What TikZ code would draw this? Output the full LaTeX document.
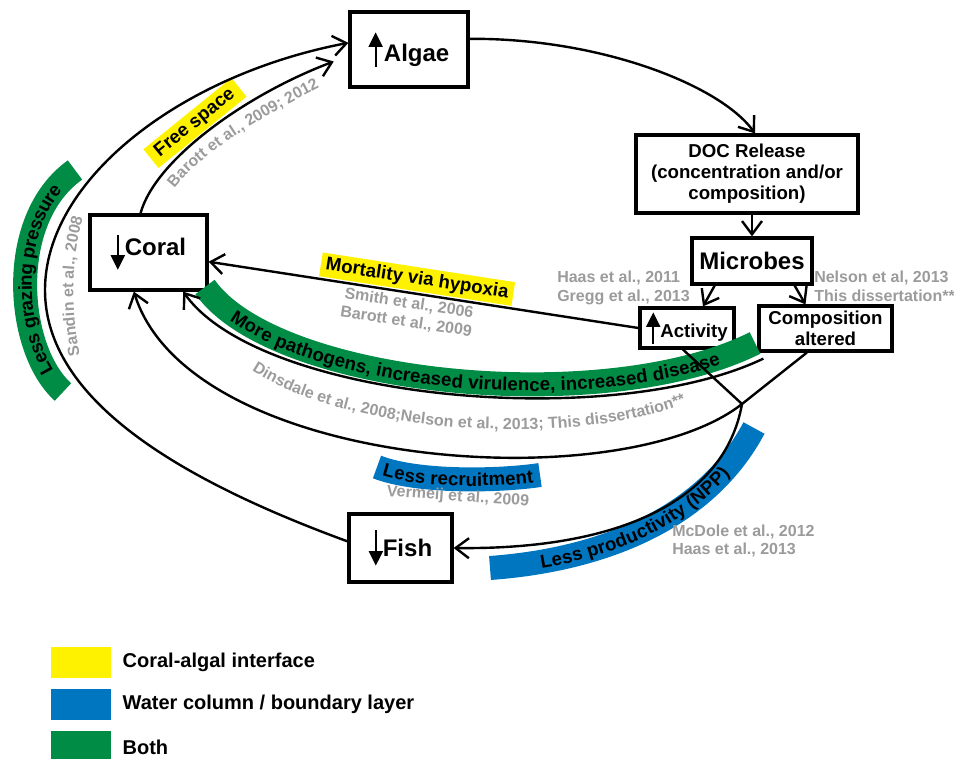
\documentclass[tikz,border=0pt]{standalone}
\usepackage{fontspec}
\setmainfont{Liberation Sans}
\usetikzlibrary{arrows.meta,positioning,decorations.text}

\definecolor{bandyellow}{HTML}{FFF200}
\definecolor{bandblue}{HTML}{0076C0}
\definecolor{bandgreen}{HTML}{008C45}
\definecolor{refgray}{HTML}{9B9B9B}

\newcommand{\boxfont}{\fontsize{18}{20}\selectfont\bfseries}
\newcommand{\midfont}{\fontsize{14}{15.75}\selectfont\bfseries}
\newcommand{\citefont}{\fontsize{12}{14}\selectfont\bfseries}
\newcommand{\legfont}{\fontsize{15}{17}\selectfont\bfseries}
% little up/down arrows in the boxes
\newcommand{\arrup}[2]{\tikz[baseline=0pt]\draw[line width=1.7pt,-{Triangle[length=11pt,width=10.5pt]}] (0pt,-#1) -- (0pt,#2);}
\newcommand{\arrdn}[2]{\tikz[baseline=0pt]\draw[line width=1.7pt,-{Triangle[length=11pt,width=10.5pt]}] (0pt,#1) -- (0pt,-#2);}

\begin{document}
\begin{tikzpicture}[x=0.75pt,y=-0.75pt,
    box/.style={draw,line width=2.4pt,fill=white,inner sep=1pt,font=\boxfont},
    midbox/.style={box,font=\midfont,align=center},
    conn/.style={line width=1.8pt},
    arr/.style={conn,-{Straight Barb[length=10pt,width=15pt]}},
    band/.style={line width=18pt},
    bandtext/.style={decorate,decoration={text along path,text align=center,raise=-5pt,text color=black,text={|\midfont|#1}}},
    reftext/.style={decorate,decoration={text along path,text align=center,text color=refgray,text={|\citefont|#1}}},
    refnote/.style={text=refgray,font=\citefont,align=left,inner sep=0pt},
    tag/.style={font=\midfont,inner sep=1pt,minimum height=18pt},
    legbox/.style={minimum width=45pt,minimum height=23.5pt,inner sep=0pt},
    legtext/.style={font=\legfont,anchor=west}]
  \useasboundingbox (0,0) rectangle (954,759);

  % boxes
  \node[box,minimum width=88.5pt,minimum height=56.25pt] (algae) at (409,49.5) {\arrup{3.75pt}{22pt}\hspace{1pt}Algae\hspace{12pt}};
  \node[midbox,minimum width=166.5pt,minimum height=58.5pt] (doc) at (747,174) {DOC Release\\(concentration and/or\\composition)};
  \node[box,minimum width=90pt,minimum height=34.5pt] (micro) at (752,261) {Microbes};
  \node[midbox,minimum width=70.5pt,minimum height=30pt] (act) at (687,328) {\arrup{4.5pt}{19pt}Activity};
  \node[midbox,minimum width=99.75pt,minimum height=33.75pt] (comp) at (825.5,328.5) {Composition\\altered};
  \node[box,minimum width=87.75pt,minimum height=56.25pt] (coral) at (148.5,252.5) {\arrdn{15pt}{11pt}Coral};
  \node[box,minimum width=77.25pt,minimum height=51pt] (fish) at (400.5,548) {\arrdn{19.5pt}{7pt}Fish};

  % coloured bands
  \draw[band,bandgreen] (63,392) .. controls (16,350) and (5,220) .. (75,170);
  \path[bandtext={Less grazing pressure}] (63,392) .. controls (16,350) and (5,220) .. (75,170);
  \node[tag,fill=bandyellow,minimum width=85pt,rotate=39] (freesp) at (195,123) {Free space};
  \draw[band,bandgreen] (205,287) .. controls (275,386) and (605,418) .. (755,343);
  \path[bandtext={More pathogens, increased virulence, increased disease}] (205,287) .. controls (275,386) and (605,418) .. (755,343);
  \draw[band,bandblue] (377,467) .. controls (418,483) and (500,481) .. (540,475);
  \path[bandtext={Less recruitment}] (377,467) .. controls (418,483) and (500,481) .. (540,475);
  \draw[band,bandblue] (490,568) .. controls (600,560) and (705,520) .. (754,428);
  \path[bandtext={Less productivity (NPP)}] (490,568) .. controls (600,560) and (705,520) .. (754,428);

  % connectors
  \coordinate (junc) at (742,404);
  \coordinate (pathstart) at ([xshift=4.5pt,yshift=-4.5pt]comp.south west);
  \draw[arr] ([yshift=8pt]algae.east) .. controls (600,38) and (720,85) .. ([xshift=6pt]doc.north);
  \draw[arr] (doc.south -| micro.north) -- (micro.north);
  \draw[arr] ([xshift=-28pt]micro.south) -- ([xshift=12pt]act.north);
  \draw[arr] ([xshift=32pt]micro.south) -- ([xshift=-15pt]comp.north);
  \draw[arr] (act.west) -- (coral)
    node[tag,fill=bandyellow,minimum width=146pt,sloped,pos=0.52,above=1pt] (hypox) {Mortality via hypoxia}
    node[refnote,align=center,sloped,pos=0.53,below=2pt] (hypoxref) {Smith et al., 2006\\Barott et al., 2009};
  \draw[conn] ([xshift=-3pt]act.south) -- (junc);
  \draw[conn] ([xshift=-14pt]comp.south) -- (junc);
  \draw[arr] (pathstart) .. controls (610,432) and (260,400) .. ([xshift=26pt]coral.south);
  \draw[arr] (junc) .. controls (620,500) and (190,470) .. ([xshift=-11pt]coral.south);
  \draw[arr] (junc) .. controls (725,500) and (620,550) .. (fish.east);
  \draw[arr] ([yshift=5pt]fish.west) .. controls (180,480) and (45,400) .. (45,290)
    .. controls (45,180) and (180,75) .. ([yshift=5pt]algae.west);
  \draw[arr] ([xshift=-6pt]coral.north) .. controls (155,160) and (245,95) .. ([xshift=-11pt,yshift=-9pt]algae.west);

  % references
  \path[reftext={Sandin et al., 2008}] (82,365) .. controls (70,315) and (70,255) .. (86,208);
  \path[reftext={Barott et al., 2009; 2012}] (168,198) .. controls (190,160) and (255,120) .. (330,82);
  \path[reftext={Dinsdale et al., 2008;Nelson et al., 2013; This dissertation**}] (235,358) .. controls (330,440) and (600,450) .. (705,395);
  \node[refnote,anchor=west] (actref) at (557,288) {Haas et al., 2011\\Gregg et al., 2013};
  \node[refnote,anchor=west] (compref) at (814,286) {Nelson et al, 2013\\This dissertation**};
  \node[refnote,rotate=-4] (recruitref) at (458,497) {Vermeij et al., 2009};
  \node[refnote,anchor=west] (nppref) at (672,541) {McDole et al., 2012\\Haas et al., 2013};

  % legend
  \node[legbox,fill=bandyellow] (legyel) at (81,662.5) {};
  \node[legtext,right=5pt of legyel] (legyeltxt) {Coral-algal interface};
  \node[legbox,fill=bandblue] (legblu) at (81,704.5) {};
  \node[legtext,right=5pt of legblu] (legblutxt) {Water column / boundary layer};
  \node[legbox,fill=bandgreen] (leggrn) at (81,747) {};
  \node[legtext,right=5pt of leggrn] (leggrntxt) {Both};
\end{tikzpicture}
\end{document}
